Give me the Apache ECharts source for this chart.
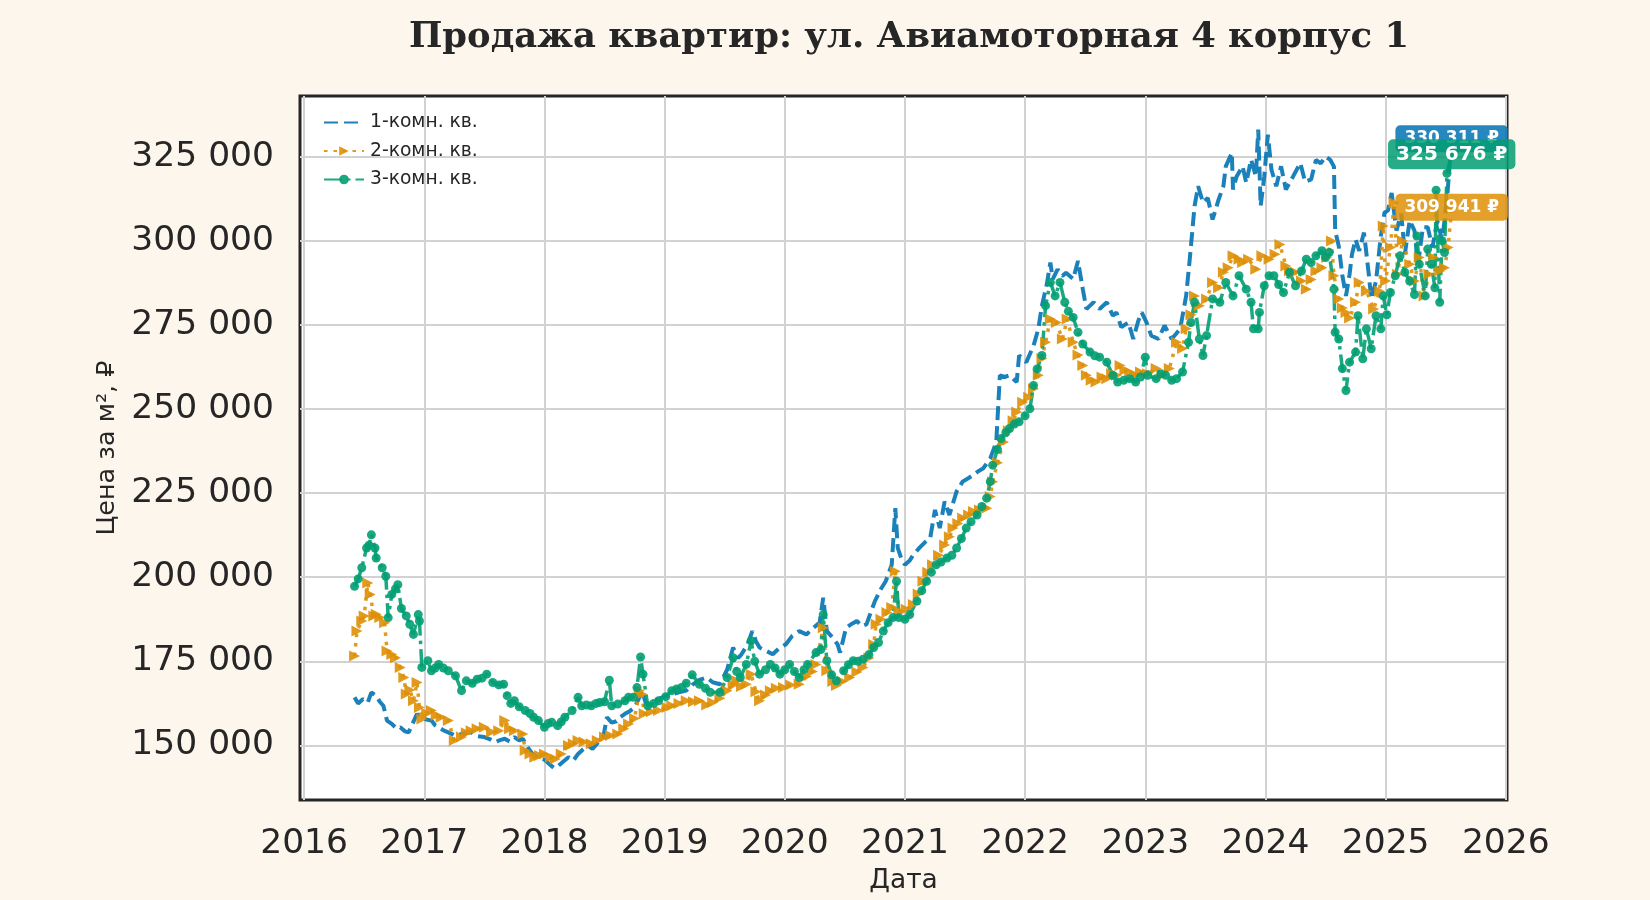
<!DOCTYPE html>
<html>
<head>
<meta charset="utf-8">
<script src="https://cdn.jsdelivr.net/npm/echarts@6/dist/echarts.min.js"></script>
<style>
html,body{margin:0;padding:0;background:#fdf6ec;}
#chart{width:1650px;height:900px;}
</style>
</head>
<body>
<div id="chart"></div>
<script>
// x = decimal year, y = price per m² (₽)
const seriesNames = ['1-комн. кв.', '2-комн. кв.', '3-комн. кв.'];
const yearTicks = [2016, 2017, 2018, 2019, 2020, 2021, 2022, 2023, 2024, 2025, 2026];
const priceTicks = [150000, 175000, 200000, 225000, 250000, 275000, 300000, 325000];

const room1 = [
[2016.42,164300],[2016.45,162500],[2016.49,163800],[2016.53,162800],[2016.56,165800],[2016.60,164800],
[2016.63,163000],[2016.66,161800],[2016.69,157400],[2016.73,156400],[2016.77,155000],[2016.80,155400],
[2016.84,154200],[2016.87,153900],[2016.94,159400],[2016.96,158400],[2017.01,157800],[2017.06,157400],
[2017.09,156000],[2017.12,155400],[2017.16,154500],[2017.20,153900],[2017.26,152900],[2017.32,153500],
[2017.39,153900],[2017.44,152800],[2017.50,152500],[2017.55,151800],[2017.59,151000],[2017.63,151600],
[2017.67,152000],[2017.71,151200],[2017.75,152500],[2017.79,151500],[2017.82,152000],[2017.86,149500],
[2017.90,147500],[2017.95,146300],[2018.00,145800],[2018.04,144500],[2018.08,143300],[2018.11,143800],
[2018.15,145000],[2018.20,146500],[2018.24,145500],[2018.28,147500],[2018.32,148800],[2018.36,150000],
[2018.40,149000],[2018.45,151000],[2018.49,152500],[2018.52,158400],[2018.56,156800],[2018.60,157200],
[2018.63,158400],[2018.67,159400],[2018.71,160200],[2018.75,161300],[2018.79,164300],[2018.81,166300],
[2018.84,163000],[2018.87,162000],[2018.92,163200],[2018.96,164000],[2019.02,164800],[2019.07,165300],
[2019.12,165800],[2019.18,166300],[2019.23,168000],[2019.29,169500],[2019.35,170200],[2019.40,168800],
[2019.46,168200],[2019.52,172500],[2019.57,179100],[2019.61,176000],[2019.64,177100],[2019.69,180000],
[2019.73,184000],[2019.76,181000],[2019.79,179100],[2019.84,178200],[2019.90,177100],[2019.95,178800],
[2020.01,180100],[2020.06,182500],[2020.12,184000],[2020.18,183000],[2020.24,185000],[2020.29,186500],
[2020.32,193900],[2020.35,184000],[2020.40,182000],[2020.44,180000],[2020.46,177600],[2020.51,185000],
[2020.56,186200],[2020.60,187000],[2020.64,185500],[2020.68,186000],[2020.72,190000],[2020.75,192900],
[2020.80,196500],[2020.84,198800],[2020.89,203700],[2020.92,220500],[2020.94,208700],[2020.97,205500],
[2021.00,203700],[2021.04,205000],[2021.07,206700],[2021.12,208700],[2021.17,210500],[2021.21,211600],
[2021.25,220000],[2021.29,214600],[2021.33,222500],[2021.37,218500],[2021.43,225500],[2021.48,228400],
[2021.53,229500],[2021.57,230400],[2021.61,231500],[2021.65,232300],[2021.71,235300],[2021.76,240200],
[2021.79,260000],[2021.83,259500],[2021.87,260000],[2021.93,258000],[2021.95,265900],[2022.01,263900],
[2022.07,268800],[2022.11,273800],[2022.14,280700],[2022.18,287000],[2022.21,293500],[2022.23,288600],
[2022.27,291500],[2022.31,289500],[2022.34,290500],[2022.40,288600],[2022.44,294000],[2022.48,285600],
[2022.51,279700],[2022.54,280700],[2022.57,281700],[2022.62,279700],[2022.68,281700],[2022.73,277700],
[2022.76,278700],[2022.80,274300],[2022.86,275700],[2022.90,270800],[2022.94,276000],[2022.97,278700],
[2023.01,275700],[2023.05,271800],[2023.11,270800],[2023.16,274800],[2023.22,270800],[2023.29,273800],
[2023.34,283600],[2023.37,294500],[2023.41,310300],[2023.44,316200],[2023.48,311300],[2023.52,312700],
[2023.56,306300],[2023.61,312200],[2023.65,316200],[2023.67,322100],[2023.72,326100],[2023.73,315200],
[2023.76,319100],[2023.81,322100],[2023.84,317200],[2023.88,324100],[2023.92,319100],[2023.94,333000],
[2023.96,310300],[2023.99,319100],[2024.02,331500],[2024.05,321100],[2024.09,316200],[2024.13,322100],
[2024.17,315200],[2024.23,319100],[2024.29,323100],[2024.33,317500],[2024.38,318200],[2024.42,324000],
[2024.46,323000],[2024.50,325000],[2024.54,324000],[2024.57,322000],[2024.58,303000],[2024.61,298400],
[2024.64,289600],[2024.67,283600],[2024.70,290000],[2024.72,296000],[2024.75,300400],[2024.78,297000],
[2024.82,302400],[2024.86,290000],[2024.88,282700],[2024.92,288000],[2024.96,301400],[2024.99,308300],
[2025.02,309000],[2025.05,314200],[2025.09,303000],[2025.13,308000],[2025.16,296000],[2025.20,306000],
[2025.24,303000],[2025.27,293000],[2025.31,304000],[2025.35,304000],[2025.39,298000],[2025.43,306000],
[2025.47,300000],[2025.51,312000],[2025.55,330311]
];

const room2 = [
[2016.42,176600],[2016.44,184000],[2016.48,187000],[2016.50,188500],[2016.53,198300],[2016.55,194900],
[2016.58,188500],[2016.60,189000],[2016.63,188000],[2016.67,186500],[2016.69,178100],[2016.73,177000],
[2016.76,176100],[2016.80,173200],[2016.83,170200],[2016.85,165300],[2016.88,166500],[2016.91,163300],
[2016.94,168700],[2016.96,161300],[2016.98,157900],[2017.02,159500],[2017.06,160400],[2017.10,159000],
[2017.14,158400],[2017.20,157400],[2017.25,151500],[2017.31,152500],[2017.35,153800],[2017.39,154400],
[2017.44,155000],[2017.50,155400],[2017.56,154000],[2017.62,154400],[2017.67,157400],[2017.71,155000],
[2017.75,154400],[2017.82,153400],[2017.84,148500],[2017.88,147500],[2017.92,146500],[2017.96,147000],
[2018.00,147500],[2018.05,146500],[2018.09,146000],[2018.14,147500],[2018.20,150000],[2018.24,150500],
[2018.28,151500],[2018.33,151000],[2018.39,150500],[2018.44,151500],[2018.50,152500],[2018.55,153000],
[2018.61,153400],[2018.66,155000],[2018.70,156400],[2018.75,158000],[2018.79,166300],[2018.81,165300],
[2018.83,159400],[2018.89,160000],[2018.95,160400],[2019.02,161300],[2019.06,161800],[2019.12,162500],
[2019.18,163300],[2019.24,163000],[2019.29,163300],[2019.35,162000],[2019.40,162800],[2019.46,164000],
[2019.52,166300],[2019.57,168000],[2019.60,169200],[2019.64,167500],[2019.68,168200],[2019.72,171200],
[2019.76,166000],[2019.79,163300],[2019.84,165000],[2019.88,166300],[2019.93,167000],[2019.99,167200],
[2020.05,168000],[2020.12,168200],[2020.18,170500],[2020.23,172000],[2020.26,174100],[2020.32,185000],
[2020.35,172200],[2020.40,169000],[2020.43,167800],[2020.48,169000],[2020.54,170200],[2020.60,171800],
[2020.65,173200],[2020.70,176000],[2020.74,180000],[2020.76,186000],[2020.80,187500],[2020.85,189500],
[2020.89,191000],[2020.92,201800],[2020.95,190000],[2021.01,190500],[2021.07,191900],[2021.11,195000],
[2021.15,198800],[2021.19,201500],[2021.23,203700],[2021.28,206500],[2021.33,209600],[2021.37,212000],
[2021.40,214600],[2021.44,216000],[2021.48,217600],[2021.53,218500],[2021.57,219500],[2021.62,220000],
[2021.68,220500],[2021.71,224000],[2021.73,228400],[2021.77,234000],[2021.82,240200],[2021.86,243500],
[2021.90,246500],[2021.93,249100],[2021.98,252000],[2022.03,253500],[2022.07,256000],[2022.11,260000],
[2022.14,265000],[2022.17,269800],[2022.21,276700],[2022.26,275700],[2022.31,270800],[2022.35,276700],
[2022.40,269800],[2022.44,266000],[2022.48,262900],[2022.51,260000],[2022.55,258500],[2022.59,258000],
[2022.64,259500],[2022.68,259000],[2022.72,260500],[2022.76,260000],[2022.79,262900],[2022.83,261500],
[2022.87,261000],[2022.92,260000],[2022.96,261000],[2023.02,260500],[2023.09,262000],[2023.14,260000],
[2023.20,262000],[2023.26,269800],[2023.31,268000],[2023.34,273800],[2023.38,278000],[2023.41,283600],
[2023.45,280700],[2023.51,282700],[2023.56,287600],[2023.61,286000],[2023.65,290600],[2023.69,292000],
[2023.73,295500],[2023.78,294500],[2023.81,293500],[2023.86,294500],[2023.92,291500],[2023.97,295500],
[2024.03,294500],[2024.08,296000],[2024.12,298900],[2024.17,292500],[2024.20,291000],[2024.25,290600],
[2024.30,288000],[2024.34,285600],[2024.38,288500],[2024.42,291000],[2024.47,292000],[2024.51,295000],
[2024.55,299900],[2024.57,289600],[2024.61,282700],[2024.64,280000],[2024.67,278700],[2024.70,277000],
[2024.75,281700],[2024.78,287600],[2024.84,285000],[2024.90,279700],[2024.95,285000],[2024.98,304400],
[2025.00,288000],[2025.04,298000],[2025.07,311300],[2025.10,290000],[2025.14,300000],[2025.20,293000],
[2025.24,288000],[2025.28,295000],[2025.32,283600],[2025.36,290000],[2025.40,295000],[2025.45,291000],
[2025.49,292000],[2025.52,298000],[2025.55,309941]
];

const room3 = [
[2016.42,197300],[2016.45,199500],[2016.48,202800],[2016.52,208700],[2016.54,209500],[2016.56,212600],
[2016.59,208700],[2016.60,205700],[2016.65,202800],[2016.68,200300],[2016.70,188000],[2016.73,194900],
[2016.76,196500],[2016.78,197800],[2016.81,190700],[2016.85,188500],[2016.88,186000],[2016.91,183000],
[2016.95,188900],[2016.96,187000],[2016.98,173200],[2017.03,175200],[2017.06,172200],[2017.09,173000],
[2017.12,174100],[2017.16,173000],[2017.20,172200],[2017.26,170700],[2017.31,166300],[2017.35,169200],
[2017.40,168500],[2017.44,169700],[2017.48,170000],[2017.52,171200],[2017.57,168700],[2017.62,168000],
[2017.66,168200],[2017.69,164800],[2017.72,162500],[2017.75,163300],[2017.79,161500],[2017.84,160400],
[2017.88,159500],[2017.91,158400],[2017.95,157400],[2018.00,155400],[2018.03,156500],[2018.06,156900],
[2018.11,155900],[2018.14,157000],[2018.17,158400],[2018.23,160400],[2018.28,164300],[2018.31,161800],
[2018.35,162000],[2018.39,161800],[2018.43,162500],[2018.46,162800],[2018.50,163000],[2018.54,169400],
[2018.56,161800],[2018.61,162300],[2018.67,163300],[2018.70,164300],[2018.74,164300],[2018.77,167200],
[2018.80,176300],[2018.82,171200],[2018.86,161800],[2018.91,162500],[2018.95,163300],[2019.01,164500],
[2019.06,166300],[2019.10,166800],[2019.14,167200],[2019.18,168500],[2019.23,171000],[2019.29,168200],
[2019.34,167000],[2019.38,165800],[2019.46,165800],[2019.52,170200],[2019.57,176100],[2019.60,172000],
[2019.63,170200],[2019.68,174100],[2019.72,181100],[2019.75,175000],[2019.79,171200],[2019.84,172500],
[2019.88,174100],[2019.92,173000],[2019.96,171200],[2020.00,172500],[2020.04,174100],[2020.08,172000],
[2020.12,170200],[2020.16,172500],[2020.19,174100],[2020.26,177600],[2020.30,178500],[2020.32,188900],
[2020.35,175200],[2020.39,171000],[2020.43,169200],[2020.49,172200],[2020.53,174000],[2020.57,175200],
[2020.61,175000],[2020.65,175600],[2020.70,177000],[2020.74,179100],[2020.78,180600],[2020.82,184000],
[2020.86,186500],[2020.90,188000],[2020.93,198800],[2020.95,188000],[2021.00,187500],[2021.04,188900],
[2021.10,192900],[2021.14,196000],[2021.18,198800],[2021.22,201500],[2021.26,203700],[2021.30,204500],
[2021.35,205700],[2021.39,206500],[2021.43,208700],[2021.47,211500],[2021.51,214600],[2021.55,216500],
[2021.60,218500],[2021.64,221000],[2021.68,223500],[2021.71,228400],[2021.73,233300],[2021.77,238000],
[2021.80,241200],[2021.84,243000],[2021.87,244200],[2021.91,245500],[2021.95,246200],[2022.00,248000],
[2022.04,250100],[2022.07,257000],[2022.10,261900],[2022.14,265900],[2022.17,280700],[2022.21,287600],
[2022.25,283600],[2022.29,287600],[2022.33,281700],[2022.36,279000],[2022.40,277200],[2022.44,272800],
[2022.48,269300],[2022.54,266900],[2022.58,265800],[2022.62,265400],[2022.68,263900],[2022.73,260000],
[2022.77,258000],[2022.82,258500],[2022.87,259000],[2022.92,258000],[2022.96,259500],[2023.00,265400],
[2023.02,260000],[2023.09,259000],[2023.13,260500],[2023.17,260000],[2023.22,258500],[2023.26,259000],
[2023.31,261000],[2023.36,269800],[2023.38,275700],[2023.41,281700],[2023.45,270800],[2023.48,265900],
[2023.51,271800],[2023.56,282700],[2023.62,281700],[2023.67,287600],[2023.73,283600],[2023.78,289600],
[2023.84,285600],[2023.88,281700],[2023.90,273800],[2023.94,273800],[2023.95,278700],[2023.99,286600],
[2024.03,289600],[2024.07,289600],[2024.11,287000],[2024.15,284600],[2024.20,290600],[2024.25,286600],
[2024.30,291000],[2024.34,294500],[2024.38,293500],[2024.42,295500],[2024.47,297000],[2024.50,295000],
[2024.53,296500],[2024.57,285600],[2024.58,272800],[2024.61,270800],[2024.64,262000],[2024.67,255500],
[2024.70,263900],[2024.75,266900],[2024.77,277700],[2024.81,264900],[2024.84,273800],[2024.88,267900],
[2024.92,277700],[2024.96,273800],[2024.98,283600],[2025.01,278000],[2025.04,284600],[2025.08,289600],
[2025.12,295500],[2025.16,290600],[2025.20,288000],[2025.24,284000],[2025.26,301400],[2025.28,293000],
[2025.33,283600],[2025.35,297500],[2025.38,293000],[2025.41,286000],[2025.42,315000],[2025.45,281700],
[2025.47,300000],[2025.49,296500],[2025.51,320000],[2025.55,325676]
];

const colors = ['#0173b2', '#de8f05', '#029e73'];
const labelBg = ['rgba(1,115,178,0.85)', 'rgba(222,143,5,0.85)', 'rgba(2,158,115,0.85)'];
const FONT = 'DejaVu Sans';

function fmtNum(v) {
  return String(Math.round(v)).replace(/\B(?=(\d{3})+(?!\d))/g, ' ');
}

function endLabel(data, idx, fontSize, pad) {
  const last = data[data.length - 1];
  return {
    symbol: 'circle',
    symbolSize: 1,
    itemStyle: { color: 'rgba(0,0,0,0)' },
    data: [{ coord: [last[0], last[1]], value: last[1] }],
    label: {
      show: true,
      position: 'inside',
      formatter: p => fmtNum(p.value) + ' ₽',
      color: '#ffffff',
      fontFamily: FONT,
      fontWeight: 'bold',
      fontSize: fontSize,
      backgroundColor: labelBg[idx],
      borderRadius: 5,
      padding: pad
    }
  };
}

const chart = echarts.init(document.getElementById('chart'), null, { renderer: 'canvas' });

const option = {
  animation: false,
  backgroundColor: '#fdf6ec',
  title: {
    text: 'Продажа квартир: ул. Авиамоторная 4 корпус 1',
    left: 904,
    top: 15,
    textAlign: 'center',
    textStyle: { fontFamily: 'DejaVu Serif', fontWeight: 'bold', fontSize: 35.4, color: '#262626' }
  },
  legend: {
    data: [
      { name: seriesNames[0], itemStyle: { opacity: 0 } },
      { name: seriesNames[1] },
      { name: seriesNames[2] }
    ],
    orient: 'vertical',
    left: 318,
    top: 108,
    itemWidth: 40,
    itemHeight: 12,
    itemGap: 9.5,
    textStyle: { fontFamily: FONT, fontSize: 18.7, color: '#262626', lineHeight: 18, padding: [0, 0, 0, 1] }
  },
  grid: {
    left: 300, right: 143, top: 96, bottom: 97,
    show: true,
    backgroundColor: '#ffffff',
    borderColor: '#262626',
    borderWidth: 3
  },
  xAxis: {
    type: 'value',
    min: 2015.966,
    max: 2026.01,
    minInterval: 1,
    maxInterval: 1,
    name: 'Дата',
    nameLocation: 'middle',
    nameGap: 68,
    nameTextStyle: { fontFamily: FONT, fontSize: 26.5, color: '#262626' },
    axisLine: { show: false },
    axisTick: { show: false },
    axisLabel: {
      margin: 27,
      fontFamily: FONT, fontSize: 34.5, color: '#262626',
      formatter: v => (yearTicks.indexOf(Math.round(v)) >= 0 && Math.abs(v - Math.round(v)) < 1e-6) ? String(Math.round(v)) : ''
    },
    splitLine: { show: true, showMinLine: false, showMaxLine: false, lineStyle: { color: '#d2d2d2', width: 2 } }
  },
  yAxis: {
    type: 'value',
    min: 133800,
    max: 343000,
    minInterval: 25000,
    maxInterval: 25000,
    name: 'Цена за м², ₽',
    nameLocation: 'middle',
    nameRotate: 90,
    nameGap: 175,
    nameTextStyle: { fontFamily: FONT, fontSize: 25.5, color: '#262626' },
    axisLine: { show: false },
    axisTick: { show: false },
    axisLabel: {
      margin: 26,
      fontFamily: FONT, fontSize: 34.5, color: '#262626',
      formatter: v => priceTicks.indexOf(v) >= 0 ? fmtNum(v) : ''
    },
    splitLine: { show: true, showMinLine: false, showMaxLine: false, lineStyle: { color: '#d2d2d2', width: 2 } }
  },
  series: [
    {
      name: seriesNames[0],
      type: 'line',
      data: room1,
      symbol: 'none',
      color: colors[0],
      lineStyle: { width: 4, type: [14, 6], opacity: 0.9 },
      markPoint: endLabel(room1, 0, 17, [5, 9, 5, 9])
    },
    {
      name: seriesNames[1],
      type: 'line',
      data: room2,
      symbol: 'triangle',
      symbolRotate: -90,
      symbolSize: 11,
      color: colors[1],
      itemStyle: { opacity: 0.9 },
      lineStyle: { width: 3.5, type: [3.5, 6], opacity: 0.9 },
      markPoint: endLabel(room2, 1, 17, [5, 9, 5, 9])
    },
    {
      name: seriesNames[2],
      type: 'line',
      data: room3,
      symbol: 'circle',
      symbolSize: 9,
      color: colors[2],
      itemStyle: { opacity: 0.9 },
      lineStyle: { width: 3.5, type: [18, 5, 3.5, 5], opacity: 0.9 },
      markPoint: endLabel(room3, 2, 20, [5, 8, 5, 8])
    }
  ]
};

chart.setOption(option);
</script>
</body>
</html>
